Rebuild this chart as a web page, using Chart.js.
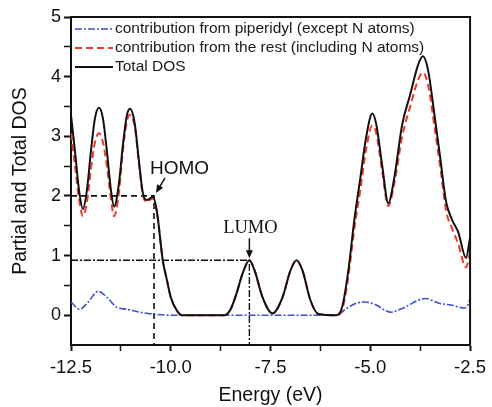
<!DOCTYPE html>
<html>
<head>
<meta charset="utf-8">
<script src="https://cdn.jsdelivr.net/npm/chart.js@4.4.1/dist/chart.umd.min.js"></script>
<style>
  html, body { margin: 0; padding: 0; background: #fff; }
  #wrap { width: 492px; height: 407px; position: relative; }
  #dosChart { display: block; }
</style>
</head>
<body>
<div id="wrap"><canvas id="dosChart" width="492" height="407"></canvas></div>
<script>
// --- DATA ---
const totalEnergy = [-12.5, -12.4, -12.3, -12.2, -12.1, -12.0, -11.9, -11.8, -11.7, -11.6, -11.5, -11.42, -11.3, -11.2, -11.1, -11.02,
  -10.9, -10.8, -10.7, -10.6, -10.45, -10.35, -10.2, -10.1, -10.0, -9.85, -9.72, -8.65, -8.5, -8.35, -8.2, -8.03, -7.9, -7.7, -7.45,
  -7.2, -7.0, -6.85, -6.7, -6.5, -6.3, -5.85, -5.7, -5.55, -5.4, -5.25, -5.1, -4.95, -4.85, -4.7, -4.55, -4.4, -4.2, -4.0, -3.8,
  -3.68, -3.55, -3.4, -3.25, -3.1, -2.95, -2.8, -2.6, -2.5];
const totalDOS = [3.35, 2.75, 2.1, 1.78, 2.1, 2.75, 3.3, 3.48, 3.3, 2.75, 2.1, 1.82, 2.2, 2.85, 3.35, 3.46,
  3.2, 2.6, 2.05, 1.93, 1.98, 1.75, 0.92, 0.6, 0.3, 0.08, 0.0, 0.0, 0.1, 0.37, 0.7, 0.92, 0.75, 0.3, 0.03,
  0.3, 0.75, 0.92, 0.75, 0.25, 0.02, 0.0, 0.15, 0.75, 1.6, 2.3, 3.0, 3.38, 3.2, 2.5, 1.88, 2.3, 3.2, 3.7, 4.2,
  4.34, 4.1, 3.4, 2.65, 1.9, 1.6, 1.4, 0.96, 1.3];

const restEnergy = [-12.5, -12.4, -12.3, -12.2, -12.1, -12.0, -11.9, -11.8, -11.7, -11.6, -11.5, -11.42, -11.3, -11.2, -11.1, -11.02,
  -10.9, -10.8, -10.7, -10.6, -10.45, -10.35, -10.2, -10.1, -10.0, -9.85, -9.72, -8.65, -8.5, -8.35, -8.2, -8.03, -7.9, -7.7, -7.45,
  -7.2, -7.0, -6.85, -6.7, -6.5, -6.3, -5.85, -5.7, -5.55, -5.4, -5.25, -5.1, -4.95, -4.85, -4.7, -4.55, -4.4, -4.2, -4.0, -3.8,
  -3.68, -3.55, -3.4, -3.25, -3.1, -2.95, -2.8, -2.6, -2.5];
const restDOS = [3.05, 2.5, 1.95, 1.66, 1.9, 2.45, 2.9, 3.05, 2.9, 2.5, 1.95, 1.66, 2.05, 2.75, 3.25, 3.36,
  3.15, 2.55, 2.02, 1.9, 1.96, 1.74, 0.92, 0.6, 0.3, 0.08, 0.0, 0.0, 0.1, 0.37, 0.7, 0.92, 0.75, 0.3, 0.03,
  0.3, 0.75, 0.92, 0.75, 0.25, 0.02, 0.0, 0.1, 0.65, 1.45, 2.1, 2.8, 3.18, 3.05, 2.4, 1.83, 2.2, 3.0, 3.5, 3.95,
  4.07, 3.85, 3.2, 2.5, 1.75, 1.45, 1.2, 0.8, 1.05];

const pipEnergy = [-12.5, -12.28, -12.07, -11.82, -11.6, -11.35, -11.1, -10.78, -10.45, -10.0, -5.85, -5.58, -5.35, -5.15,
  -4.85, -4.65, -4.48, -4.25, -4.03, -3.8, -3.6, -3.4, -3.28, -2.98, -2.75, -2.65, -2.57, -2.5];
const pipDOS = [0.22, 0.1, 0.22, 0.4, 0.3, 0.13, 0.1, 0.05, 0.02, 0.0, 0.0, 0.12, 0.2, 0.22,
  0.17, 0.09, 0.05, 0.1, 0.17, 0.25, 0.28, 0.23, 0.2, 0.17, 0.13, 0.12, 0.15, 0.28];

const seriesLabels = [
  'contribution from piperidyl (except N atoms)',
  'contribution from the rest (including N atoms)',
  'Total DOS'
];

const homoEnergy = -10.42, homoLevel = 2.0;
const lumoEnergy = -8.03, lumoLevel = 0.92;

const xMin = -12.5, xMax = -2.5, yMin = -0.5, yMax = 5;
const xTicks = [-12.5, -10.0, -7.5, -5.0, -2.5];
const xMinorTicks = [-11.25, -8.75, -6.25, -3.75];
const yTicks = [0, 1, 2, 3, 4, 5];
const yMinorTicks = [0.5, 1.5, 2.5, 3.5, 4.5];

const toPoints = (xs, ys) => xs.map((x, i) => ({ x: x, y: ys[i] }));
const isMajor = (list, v) => list.some(t => Math.abs(t - v) < 1e-6);

const FONT = "'Liberation Sans', Arial, sans-serif";
const INK = '#111';

// box edges, legend and HOMO/LUMO labels
const extrasPlugin = {
  id: 'extras',
  afterDraw(chart) {
    const ctx = chart.ctx;
    const area = chart.chartArea;
    const xs = chart.scales.x, ys = chart.scales.y;
    ctx.save();

    // top and right edges of the box
    ctx.fillStyle = INK;
    ctx.fillRect(area.left - 1, area.top - 1, area.right - area.left + 2, 2);
    ctx.fillRect(area.right - 1, area.top - 1, 2, area.bottom - area.top + 2);

    // legend
    const styles = [
      { color: '#3e4fcf', dash: [7, 2, 2, 2], width: 1.6 },
      { color: '#f0392b', dash: [7, 4], width: 2 },
      { color: INK, dash: [], width: 2 }
    ];
    ctx.font = '15.5px ' + FONT;
    ctx.textBaseline = 'middle';
    seriesLabels.forEach((label, i) => {
      const y = area.top + 12 + i * 19;
      ctx.strokeStyle = styles[i].color;
      ctx.lineWidth = styles[i].width;
      ctx.setLineDash(styles[i].dash);
      ctx.beginPath();
      ctx.moveTo(area.left + 4, y);
      ctx.lineTo(area.left + 42, y);
      ctx.stroke();
      ctx.fillStyle = '#1a1a1a';
      ctx.fillText(label, area.left + 44, y);
    });
    ctx.setLineDash([]);

    // HOMO label + arrow
    const hx = xs.getPixelForValue(homoEnergy), hy = ys.getPixelForValue(homoLevel);
    ctx.fillStyle = INK;
    ctx.font = '19px ' + FONT;
    ctx.textAlign = 'left';
    ctx.fillText('HOMO', hx - 4, hy - 27);
    drawArrow(ctx, hx + 11, hy - 18, hx + 2, hy - 3);

    // LUMO label + arrow
    const lx = xs.getPixelForValue(lumoEnergy), ly = ys.getPixelForValue(lumoLevel);
    ctx.font = "18.5px 'Liberation Serif', 'Times New Roman', serif";
    ctx.textAlign = 'center';
    ctx.fillText('LUMO', lx + 1, ly - 32);
    drawArrow(ctx, lx, ly - 22, lx, ly - 2);

    ctx.restore();
  }
};

function drawArrow(ctx, x1, y1, x2, y2) {
  const ang = Math.atan2(y2 - y1, x2 - x1);
  ctx.strokeStyle = INK;
  ctx.lineWidth = 1.5;
  ctx.beginPath();
  ctx.moveTo(x1, y1);
  ctx.lineTo(x2 - 6 * Math.cos(ang), y2 - 6 * Math.sin(ang));
  ctx.stroke();
  ctx.beginPath();
  ctx.moveTo(x2, y2);
  ctx.lineTo(x2 - 8 * Math.cos(ang) + 3.5 * Math.sin(ang), y2 - 8 * Math.sin(ang) - 3.5 * Math.cos(ang));
  ctx.lineTo(x2 - 8 * Math.cos(ang) - 3.5 * Math.sin(ang), y2 - 8 * Math.sin(ang) + 3.5 * Math.cos(ang));
  ctx.closePath();
  ctx.fill();
}

const dosChart = new Chart(document.getElementById('dosChart').getContext('2d'), {
  type: 'line',
  data: {
    datasets: [
      {
        label: seriesLabels[0],
        data: toPoints(pipEnergy, pipDOS),
        borderColor: '#3e4fcf', borderWidth: 1.6, borderDash: [7, 2, 2, 2],
        cubicInterpolationMode: 'monotone', pointRadius: 0, order: 3
      },
      {
        label: seriesLabels[1],
        data: toPoints(restEnergy, restDOS),
        borderColor: '#f0392b', borderWidth: 2, borderDash: [7, 4],
        cubicInterpolationMode: 'monotone', pointRadius: 0, order: 2
      },
      {
        label: seriesLabels[2],
        data: toPoints(totalEnergy, totalDOS),
        borderColor: INK, borderWidth: 2,
        cubicInterpolationMode: 'monotone', pointRadius: 0, order: 1
      },
      {
        label: 'HOMO guide',
        data: [{ x: xMin, y: homoLevel }, { x: homoEnergy, y: homoLevel }, { x: homoEnergy, y: yMin }],
        borderColor: INK, borderWidth: 1.6, borderDash: [6, 4],
        tension: 0, pointRadius: 0, order: 5
      },
      {
        label: 'LUMO guide',
        data: [{ x: xMin, y: lumoLevel }, { x: lumoEnergy, y: lumoLevel }, { x: lumoEnergy, y: yMin }],
        borderColor: INK, borderWidth: 1.4, borderDash: [7, 2, 2, 2],
        tension: 0, pointRadius: 0, order: 5
      }
    ]
  },
  options: {
    responsive: false,
    animation: false,
    layout: { padding: { top: 17, right: 21, left: 0, bottom: 0 } },
    plugins: {
      legend: { display: false },
      tooltip: { enabled: false }
    },
    scales: {
      x: {
        type: 'linear',
        min: xMin, max: xMax,
        afterFit: s => { s.height = 62; },
        afterBuildTicks: s => {
          s.ticks = xTicks.concat(xMinorTicks).sort((a, b) => a - b).map(v => ({ value: v }));
        },
        ticks: {
          color: INK, padding: 6, maxRotation: 0, autoSkip: false,
          font: { family: FONT, size: 18.5 },
          callback: v => isMajor(xTicks, v) ? v.toFixed(1) : ''
        },
        grid: {
          drawOnChartArea: false, tickLength: 6, tickColor: INK,
          tickWidth: c => (c.tick && isMajor(xTicks, c.tick.value)) ? 2 : 1.5
        },
        border: { color: INK, width: 2 },
        title: {
          display: true, text: 'Energy (eV)', color: INK,
          font: { family: FONT, size: 19.5 }, padding: { top: 0, bottom: 0 }
        }
      },
      y: {
        type: 'linear',
        min: yMin, max: yMax,
        afterFit: s => { s.width = 71; },
        afterBuildTicks: s => {
          s.ticks = yTicks.concat(yMinorTicks).sort((a, b) => a - b).map(v => ({ value: v }));
        },
        ticks: {
          color: INK, padding: 3, autoSkip: false,
          font: { family: FONT, size: 18 },
          callback: v => isMajor(yTicks, v) ? String(v) : ''
        },
        grid: {
          drawOnChartArea: false, tickLength: 7, tickColor: INK,
          tickWidth: c => (c.tick && isMajor(yTicks, c.tick.value)) ? 2 : 1.5
        },
        border: { color: INK, width: 2 },
        title: {
          display: true, text: 'Partial and Total DOS', color: INK,
          font: { family: FONT, size: 19.5 }, padding: { top: 9, bottom: 0 }
        }
      }
    }
  },
  plugins: [extrasPlugin]
});
</script>
</body>
</html>
